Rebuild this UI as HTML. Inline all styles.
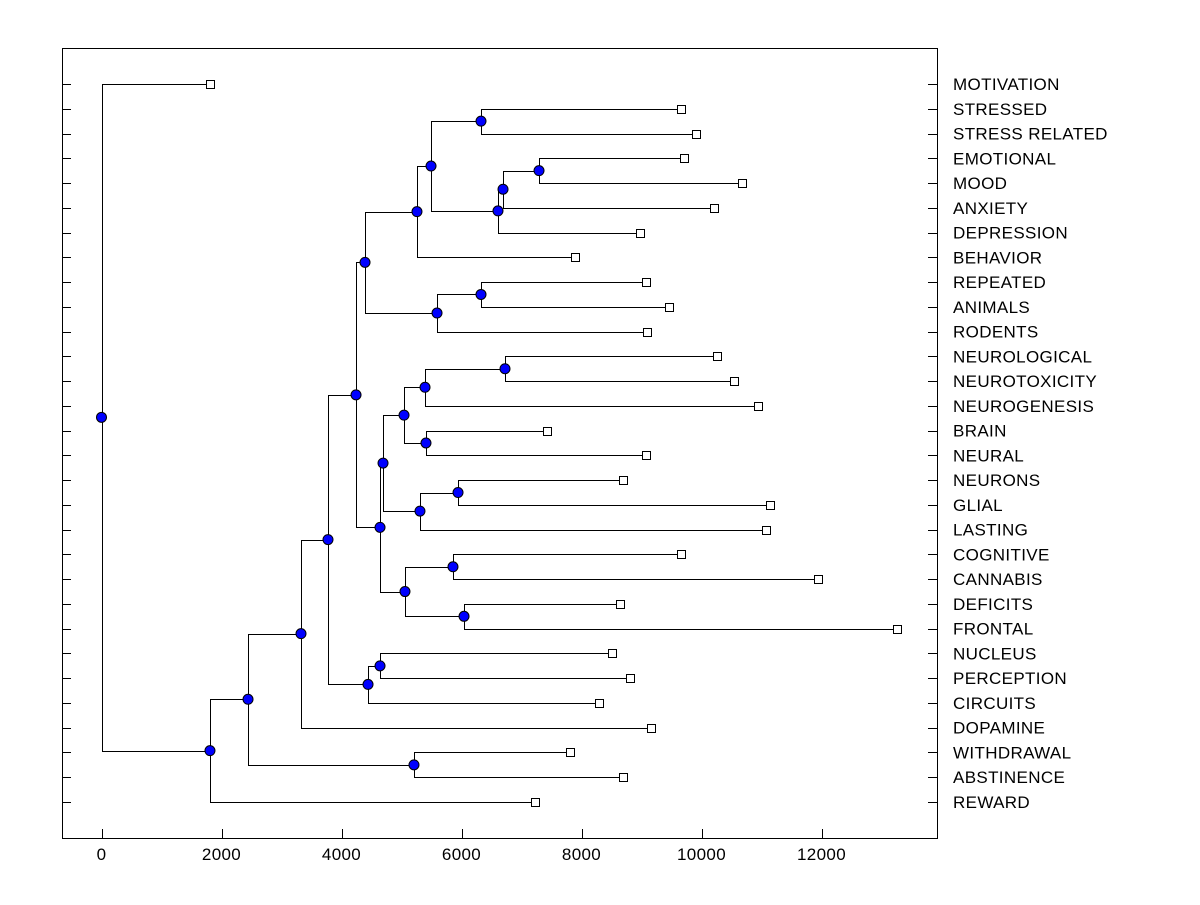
<!DOCTYPE html>
<html><head><meta charset="utf-8"><style>
html,body{margin:0;padding:0;background:#fff}
svg text{font-family:"Liberation Sans",Arial,sans-serif;font-size:17px;letter-spacing:0.35px;fill:#000}
</style></head><body>
<svg id="chart" width="1200" height="900" xmlns="http://www.w3.org/2000/svg"></svg>
<script>
const labels=["MOTIVATION","STRESSED","STRESS RELATED","EMOTIONAL","MOOD","ANXIETY","DEPRESSION","BEHAVIOR","REPEATED","ANIMALS","RODENTS","NEUROLOGICAL","NEUROTOXICITY","NEUROGENESIS","BRAIN","NEURAL","NEURONS","GLIAL","LASTING","COGNITIVE","CANNABIS","DEFICITS","FRONTAL","NUCLEUS","PERCEPTION","CIRCUITS","DOPAMINE","WITHDRAWAL","ABSTINENCE","REWARD"];
const leafValues=[1808,9658,9908,9708,10675,10208,8975,7892,9075,9458,9092,10258,10542,10942,7425,9075,8692,11142,11075,9658,11942,8642,13258,8508,8808,8292,9158,7808,8692,7225];
const xTicks=[0,2000,4000,6000,8000,10000,12000];
// tree: [mergeHeight, left, right]; numbers = leaf index
const tree=[0,0,
 [1808,
  [2442,
   [3325,
    [3775,
     [4242,
      [4392,
       [5258,[5492,[6325,1,2],[6608,[6692,[7292,3,4],5],6]],7],
       [5592,[6325,8,9],10]],
      [4642,
       [4692,
        [5042,[5392,[6725,11,12],13],[5408,14,15]],
        [5308,[5942,16,17],18]],
       [5058,[5858,19,20],[6042,21,22]]]],
     [4442,[4642,23,24],25]],
    26],
   [5208,27,28]],
  29]];
const NS="http://www.w3.org/2000/svg";
const svg=document.getElementById('chart');
const L=62,R=937,T=48,B=838;
const xs=v=>101.5+v*0.06;
const ys=i=>84+i*(802-84)/29;
function el(tag,attrs,parent){const e=document.createElementNS(NS,tag);for(const k in attrs)e.setAttribute(k,attrs[k]);(parent||svg).appendChild(e);return e;}
const frame=el('rect',{x:L+0.5,y:T+0.5,width:R-L,height:B-T,fill:'none',stroke:'#000','stroke-width':1});


const linesG=el('g',{stroke:'#000','stroke-width':1,fill:'none'});


xTicks.forEach(v=>{
 const x=Math.round(xs(v))+0.5;
 const t=el('line',{x1:x,x2:x,y1:B,y2:B-9,stroke:'#000'});
 
 
 const tx=el('text',{x:xs(v),y:B+22,'text-anchor':'middle'});
 tx.textContent=v;
 
 
});
labels.forEach((lab,i)=>{
 const y=Math.round(ys(i))+0.5;
 const t1=el('line',{x1:L,x2:L+9,y1:y,y2:y,stroke:'#000'});
 
 
 const t2=el('line',{x1:R-9,x2:R,y1:y,y2:y,stroke:'#000'});
 
 
 const tx=el('text',{x:953,y:ys(i)+6});
 tx.textContent=lab;
 
 
});
const nodes=[],leaves=[];
function layout(n){
 if(typeof n==='number'){const p={x:xs(leafValues[n]),y:ys(n)};leaves.push(p);return p;}
 const a=layout(n[1]),b=layout(n[2]);
 const x=xs(n[0]),y=(a.y+b.y)/2;
 const r=v=>Math.round(v)+0.5;
 el('polyline',{points:`${r(a.x)},${r(a.y)} ${r(x)},${r(a.y)} ${r(x)},${r(b.y)} ${r(b.x)},${r(b.y)}`},linesG);
 const p={x,y};nodes.push(p);return p;
}
layout(tree);
leaves.forEach(p=>{
 const s=el('rect',{x:Math.round(p.x)-3.5,y:Math.round(p.y)-3.5,width:8,height:8,fill:'#fff',stroke:'#000'});
 
 
});
nodes.forEach(p=>{
 const c=el('circle',{cx:p.x,cy:p.y,r:5,fill:'#0000ff',stroke:'#000','stroke-width':1});
 
 
});
</script>
</body></html>
